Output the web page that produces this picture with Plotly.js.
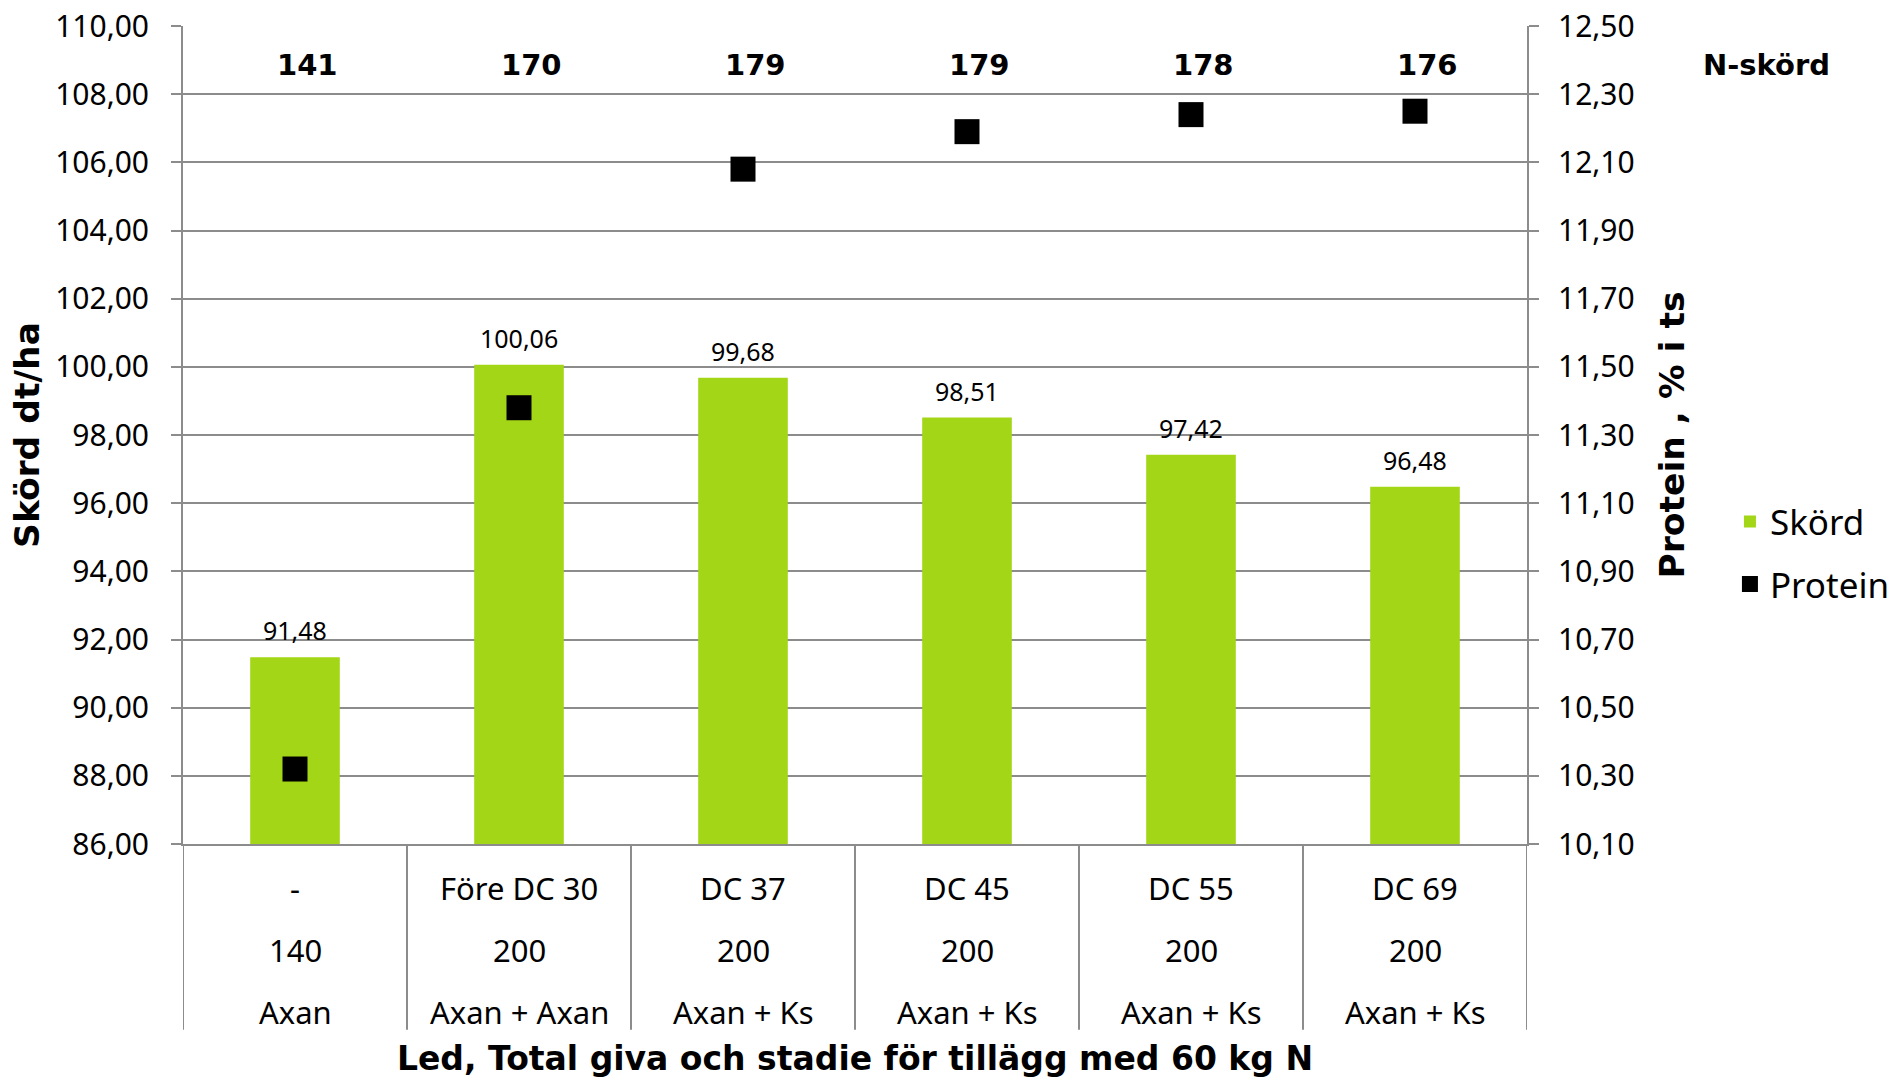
<!DOCTYPE html>
<html>
<head>
<meta charset="utf-8">
<script src="https://cdn.plot.ly/plotly-3.0.1.min.js"></script>
<style>html,body{margin:0;padding:0;background:#fff;}#chart{width:1889px;height:1080px;}</style>
</head>
<body>
<div id="chart"></div>
<script>
// Data
const categories = ["-", "Före DC 30", "DC 37", "DC 45", "DC 55", "DC 69"];
const totalGiva = ["140", "200", "200", "200", "200", "200"];
const produkt = ["Axan", "Axan + Axan", "Axan + Ks", "Axan + Ks", "Axan + Ks", "Axan + Ks"];
const skord = [91.48, 100.06, 99.68, 98.51, 97.42, 96.48];
const protein = [10.32, 11.38, 12.08, 12.19, 12.24, 12.25];
const nSkord = [141, 170, 179, 179, 178, 176];

const GRID = '#8c8c8c';
const GREEN = '#a3d616';
const TXT = '#000000';

const fmt = v => v.toFixed(2).replace('.', ',');

const traces = [
  {
    type: 'bar', name: 'Skörd', x: categories, y: skord,
    marker: {color: GREEN}, width: 0.4,
    legendgroup: 'a', hoverinfo: 'x+y'
  },
  {
    type: 'scatter', mode: 'markers', name: 'Protein', x: categories, y: protein,
    yaxis: 'y2', marker: {symbol: 'square', color: '#000', size: 25},
    legendgroup: 'b', cliponaxis: false
  }
];

const annotations = [];
// bar value labels
categories.forEach((c, i) => {
  annotations.push({x: c, y: skord[i], xref: 'x', yref: 'y', text: fmt(skord[i]),
    showarrow: false, yanchor: 'bottom', xanchor: 'center', yshift: 8,
    font: {family: 'Noto Sans', size: 25, color: TXT}});
});
// N-skörd values
categories.forEach((c, i) => {
  annotations.push({x: c, y: 108.86, xref: 'x', yref: 'y', text: '<b>' + nSkord[i] + '</b>',
    showarrow: false, xshift: 12, xanchor: 'center', yanchor: 'middle',
    font: {family: 'DejaVu Sans', size: 29, color: TXT}});
});
annotations.push({x: 1.178, y: 108.86, xref: 'paper', yref: 'y', text: '<b>N-skörd</b>',
  showarrow: false, xanchor: 'center', yanchor: 'middle',
  font: {family: 'DejaVu Sans', size: 29, color: TXT}});
// multi-row category labels
const rows = [categories, totalGiva, produkt];
const rowY = [-0.0538, -0.1296, -0.2054];
rows.forEach((row, r) => {
  row.forEach((t, i) => {
    annotations.push({x: categories[i], y: rowY[r], xref: 'x', yref: 'paper', text: t,
      showarrow: false, xanchor: 'center', yanchor: 'middle',
      font: {family: 'Noto Sans', size: 31, color: TXT}});
  });
});

// divider lines below the axis
const shapes = [];
for (let i = 0; i <= categories.length; i++) {
  shapes.push({type: 'line', xref: 'x', yref: 'paper', x0: i - 0.5, x1: i - 0.5, y0: 0, y1: -0.227,
    line: {color: GRID, width: 2}});
}

const layout = {
  width: 1889, height: 1080,
  margin: {l: 183, r: 362, t: 26, b: 236, autoexpand: false},
  paper_bgcolor: '#fff', plot_bgcolor: '#fff',
  separators: ', ',
  showlegend: true,
  bargap: 0.6,
  font: {family: 'Noto Sans', color: TXT},
  xaxis: {
    type: 'category', range: [-0.5, 5.5], showticklabels: false, ticks: '',
    showgrid: false, showline: true, linecolor: GRID, linewidth: 2, zeroline: false,
    title: {text: 'Led, Total giva och stadie för tillägg med 60 kg N',
      font: {family: 'DejaVu Sans', size: 33, color: TXT, weight: 'bold'}, standoff: 202}
  },
  yaxis: {
    range: [86, 110], dtick: 2, tick0: 86, tickformat: '.2f',
    showgrid: true, gridcolor: GRID, gridwidth: 2, zeroline: false,
    showline: true, linecolor: GRID, linewidth: 2,
    ticks: 'outside', ticklen: 10, tickcolor: GRID, tickwidth: 2, ticklabelstandoff: 16,
    tickfont: {family: 'Noto Sans', size: 30, color: TXT},
    title: {text: 'Skörd dt/ha', font: {family: 'DejaVu Sans', size: 34.5, color: TXT, weight: 'bold'}, standoff: 5}
  },
  yaxis2: {
    overlaying: 'y', side: 'right',
    range: [10.1, 12.5], dtick: 0.2, tick0: 10.1, tickformat: '.2f',
    showgrid: false, zeroline: false,
    showline: true, linecolor: GRID, linewidth: 2,
    ticks: 'outside', ticklen: 10, tickcolor: GRID, tickwidth: 2, ticklabelstandoff: 13,
    tickfont: {family: 'Noto Sans', size: 30, color: TXT},
    title: {text: 'Protein , % i ts', font: {family: 'DejaVu Sans', size: 34.5, color: TXT, weight: 'bold'}, standoff: 26}
  },
  legend: {
    x: 1.151, xanchor: 'left', y: 0.356, yanchor: 'middle',
    font: {family: 'Noto Sans', size: 35, color: TXT},
    traceorder: 'grouped', tracegroupgap: 14, bgcolor: 'rgba(0,0,0,0)'
  },
  annotations: annotations,
  shapes: shapes
};

Plotly.newPlot('chart', traces, layout, {displayModeBar: false, responsive: false});
</script>
</body>
</html>
